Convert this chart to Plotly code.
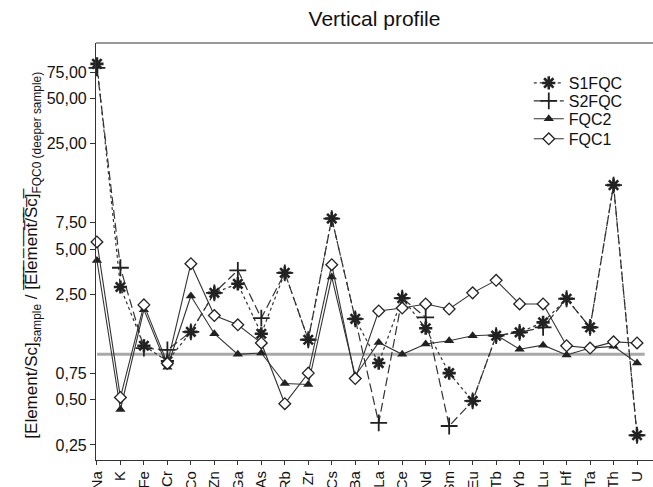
import plotly.graph_objects as go

elements = ["Na", "K", "Fe", "Cr", "Co", "Zn", "Ga", "As", "Rb", "Zr", "Cs", "Ba",
            "La", "Ce", "Nd", "Sm", "Eu", "Tb", "Yb", "Lu", "Hf", "Ta", "Th", "U"]

s1fqc = [85, 2.8, 1.14, 0.9, 1.41, 2.56, 2.94, 1.37, 3.48, 1.25, 7.98, 1.72,
         0.875, 2.36, 1.49, 0.75, 0.49, 1.33, 1.4, 1.63, 2.34, 1.51, 13.3, 0.29]
s2fqc = [80, 3.76, 1.1, 1.07, 1.41, 2.56, 3.61, 1.74, 3.48, 1.25, 7.98, 1.72,
         0.35, 2.36, 1.76, 0.334, 0.49, 1.33, 1.4, 1.51, 2.34, 1.51, 13.3, 0.29]
fqc2 = [4.2, 0.43, 1.98, 0.82, 2.44, 1.37, 1.0, 1.02, 0.64, 0.63, 3.26, 0.72,
        1.2, 1.0, 1.17, 1.23, 1.33, 1.35, 1.08, 1.15, 0.99, 1.1, 1.13, 0.875]
fqc1 = [5.58, 0.517, 2.13, 0.87, 4.0, 1.81, 1.57, 1.19, 0.47, 0.75, 3.94, 0.69,
        1.94, 2.03, 2.16, 2.0, 2.56, 3.1, 2.16, 2.16, 1.14, 1.1, 1.21, 1.19]

ytick_vals = [0.25, 0.5, 0.75, 2.5, 5, 7.5, 25, 50, 75]
ytick_text = ["0,25", "0,50", "0,75", "2,50", "5,00", "7,50", "25,00", "50,00", "75,00"]

x_idx = list(range(len(elements)))
FONT = "Liberation Sans, Arial, sans-serif"
INK = "#222222"

fig = go.Figure()

fig.add_trace(go.Scatter(
    x=x_idx, y=s1fqc, name="S1FQC", mode="lines+markers", cliponaxis=False,
    legend="legend",
    line=dict(color="#333333", width=1.2, dash="3px,3px"),
    marker=dict(symbol="asterisk-open", size=11, color=INK, line=dict(width=2.6, color=INK)),
))
fig.add_trace(go.Scatter(
    x=x_idx, y=s2fqc, name="S2FQC", mode="lines+markers", cliponaxis=False,
    legend="legend2",
    line=dict(color="#333333", width=1.2, dash="9px,4px"),
    marker=dict(symbol="cross-thin-open", size=12, color=INK, line=dict(width=1.8, color=INK)),
))
fig.add_trace(go.Scatter(
    x=x_idx, y=fqc2, name="FQC2", mode="lines+markers", cliponaxis=False,
    legend="legend3",
    line=dict(color="#333333", width=1.1),
    marker=dict(symbol="triangle-up", size=9, color=INK, line=dict(width=0)),
))
fig.add_trace(go.Scatter(
    x=x_idx, y=fqc1, name="FQC1", mode="lines+markers", cliponaxis=False,
    legend="legend4",
    line=dict(color="#333333", width=1.1),
    marker=dict(symbol="diamond", size=9, color="white", line=dict(width=1.3, color=INK)),
))

fig.add_shape(type="line", xref="paper", yref="y", x0=0.002, x1=0.985, y0=1, y1=1,
              line=dict(color="#a8a8a8", width=3), layer="below")
fig.add_shape(type="line", xref="paper", yref="paper", x0=0, x1=1, y0=1, y1=1,
              line=dict(color="#333333", width=1.2))

ol = "\u0305"
over = "".join(ch + ol for ch in "[Element/Sc]")
ytitle = ("[Element/Sc]<sub>sample</sub> / " + over +
          "<sub>FQC0 (deeper sample)</sub>")

fig.add_annotation(text=ytitle, xref="paper", yref="paper", x=0, y=0.49,
                   xshift=-76, textangle=-90, showarrow=False,
                   font=dict(family=FONT, size=17, color="#111111"))

def leg(ypaper):
    return dict(x=0.777, y=ypaper, xanchor="left", yanchor="middle",
                bgcolor="rgba(0,0,0,0)", font=dict(family=FONT, size=16, color="#111111"),
                itemwidth=30)

fig.update_layout(
    width=653, height=487,
    margin=dict(l=96, r=0, t=43, b=27),
    paper_bgcolor="white", plot_bgcolor="white",
    font=dict(family=FONT, size=16, color="#111111"),
    title=dict(text="Vertical profile", x=0.5, xref="paper", xanchor="center",
               y=0.962, yanchor="middle",
               font=dict(family=FONT, size=21, color="#111111")),
    showlegend=True,
    legend=leg(0.904),
    legend2=leg(0.861),
    legend3=leg(0.818),
    legend4=leg(0.770),
)

fig.update_xaxes(
    range=[-0.04, 23.68], tickmode="array", tickvals=x_idx, ticktext=elements,
    tickangle=-90, ticks="outside", ticklen=4, tickcolor="#333333",
    showline=True, linecolor="#333333", linewidth=1.2, mirror=False,
    showgrid=False, zeroline=False, automargin=False,
    tickfont=dict(size=15),
)
fig.update_yaxes(
    type="log", range=[-0.702, 2.068], tickmode="array",
    tickvals=ytick_vals, ticktext=ytick_text,
    ticks="outside", ticklen=5, tickcolor="#333333",
    showline=True, linecolor="#333333", linewidth=1.2, mirror=False,
    showgrid=False, zeroline=False, automargin=False,
    tickfont=dict(size=16),
)

fig.write_html("out.html", config={"displayModeBar": False},
               post_script="document.body.style.margin='0';document.body.style.padding='0';")
